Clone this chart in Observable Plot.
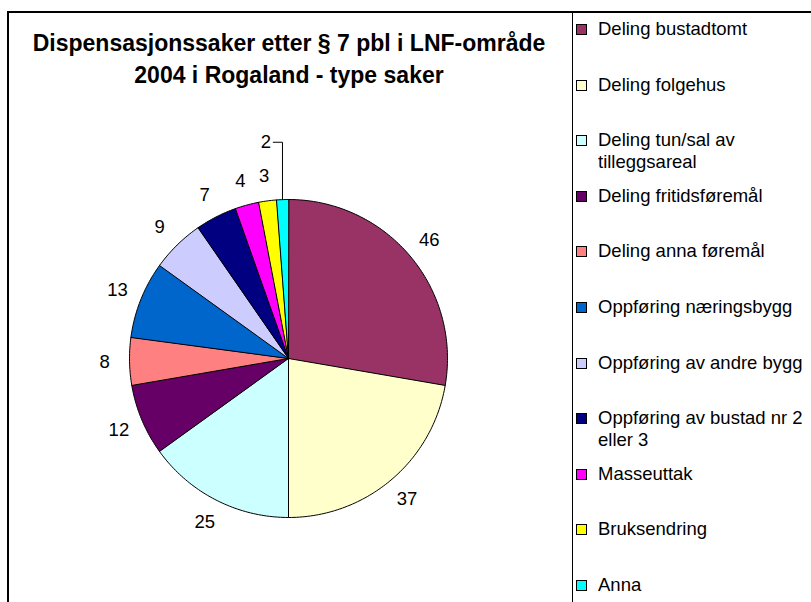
<!DOCTYPE html>
<html>
<head>
<meta charset="utf-8">
<script src="https://cdn.jsdelivr.net/npm/d3@7"></script>
<script src="https://cdn.jsdelivr.net/npm/@observablehq/plot@0.6"></script>
<style>
  body { margin: 0; background: #fff; }
  #wrap { position: relative; width: 811px; height: 602px; overflow: hidden; background: #fff;
          font-family: "Liberation Sans", Arial, sans-serif; color: #000; }
  #frame { position: absolute; left: 7px; top: 11px; width: 900px; height: 700px;
           border-left: 2px solid #000; border-top: 2px solid #000; box-sizing: border-box; }
  #divider { position: absolute; left: 572px; top: 11px; width: 1px; height: 620px; background: #000; }
  #chart { position: absolute; left: 0; top: 0; }
  #title { position: absolute; left: -11px; width: 600px; top: 27px; text-align: center;
           font-weight: bold; font-size: 23px; line-height: 32px; }
  #title div { white-space: nowrap; }
  .leg { position: absolute; left: 576px; width: 232px; font-size: 18.5px; line-height: 22px; }
  .leg .sw { position: absolute; left: 0; top: 6px; width: 9px; height: 9px; border: 1px solid #000; }
  .leg .tx { margin-left: 22px; }
</style>
</head>
<body>
<div id="wrap">
  <div id="frame"></div>
  <div id="divider"></div>
  <div id="chart"></div>
  <div id="title"></div>
  <div id="legend"></div>
</div>
<script>
const titleLines = ["Dispensasjonssaker etter § 7 pbl i LNF-område", "2004 i Rogaland - type saker"];
const categories = [
  "Deling bustadtomt",
  "Deling folgehus",
  "Deling tun/sal av tilleggsareal",
  "Deling fritidsføremål",
  "Deling anna føremål",
  "Oppføring næringsbygg",
  "Oppføring av andre bygg",
  "Oppføring av bustad nr 2 eller 3",
  "Masseuttak",
  "Bruksendring",
  "Anna"
];
const values = [46, 37, 25, 12, 8, 13, 9, 7, 4, 3, 2];
const colors = ["#993366", "#FFFFCC", "#CCFFFF", "#660066", "#FF8080", "#0066CC",
                "#CCCCFF", "#000080", "#FF00FF", "#FFFF00", "#00FFFF"];

// layout
const W = 572, H = 602, cx = 288, cy = 358, R = 159;
const labelR = 1.157;

const total = d3.sum(values);
const arcs = d3.pie().sort(null).value(d => d)(values);

const pts = [];
arcs.forEach((a, i) => {
  const n = Math.max(2, Math.ceil((a.endAngle - a.startAngle) * 180 / Math.PI));
  pts.push({k: categories[i], x: 0, y: 0});
  for (let j = 0; j <= n; j++) {
    const t = a.startAngle + (a.endAngle - a.startAngle) * j / n;
    pts.push({k: categories[i], x: Math.sin(t), y: -Math.cos(t)});
  }
});

const labels = [];
const leaders = [];
arcs.forEach((a, i) => {
  const m = (a.startAngle + a.endAngle) / 2;
  if (values[i] / total < 0.015) {
    const ex = Math.sin(m), ey = -Math.cos(m);
    const ly = -1.36;
    leaders.push({k: i, x: ex - 0.058, y: ly}, {k: i, x: ex, y: ly}, {k: i, x: ex, y: ey});
    labels.push({x: ex - 0.105, y: ly, t: String(values[i])});
  } else {
    labels.push({x: labelR * Math.sin(m), y: -labelR * Math.cos(m), t: String(values[i])});
  }
});

const plot = Plot.plot({
  width: W, height: H, margin: 0,
  x: {domain: [-cx / R, (W - cx) / R], range: [0, W], axis: null},
  y: {domain: [-cy / R, (H - cy) / R], range: [0, H], axis: null},
  color: {domain: categories, range: colors},
  style: {background: "transparent", fontFamily: "Liberation Sans, Arial, sans-serif"},
  marks: [
    Plot.line(pts, {x: "x", y: "y", z: "k", fill: "k", stroke: "#000", strokeWidth: 1, curve: "linear-closed", strokeLinejoin: "round"}),
    Plot.line(leaders, {x: "x", y: "y", z: "k", stroke: "#000", strokeWidth: 1}),
    Plot.text(labels, {x: "x", y: "y", text: "t", fontSize: 18.5, fill: "#000"})
  ]
});
document.getElementById("chart").appendChild(plot);

const t = document.getElementById("title");
titleLines.forEach(s => { const d = document.createElement("div"); d.textContent = s; t.appendChild(d); });

const leg = document.getElementById("legend");
categories.forEach((c, i) => {
  const d = document.createElement("div");
  d.className = "leg";
  d.style.top = (29 + 55.6 * i - 11) + "px";
  const sw = document.createElement("div");
  sw.className = "sw"; sw.style.background = colors[i];
  const tx = document.createElement("div");
  tx.className = "tx"; tx.textContent = c;
  d.appendChild(sw); d.appendChild(tx);
  leg.appendChild(d);
});
</script>
</body>
</html>
